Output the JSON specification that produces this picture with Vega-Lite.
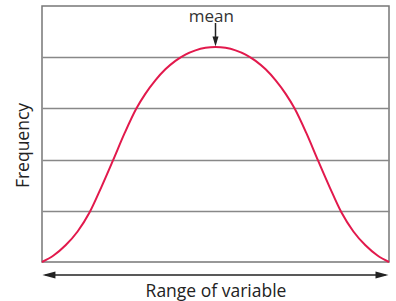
{
  "$schema": "https://vega.github.io/schema/vega-lite/v6.json",
  "autosize": {"type": "none"},
  "width": 347,
  "height": 256,
  "padding": {"left": 42, "top": 6, "right": 7, "bottom": 39},
  "background": "white",
  "config": {
    "view": {"stroke": "#777777", "strokeWidth": 1.5},
    "font": "Open Sans",
    "axis": {"labelFont": "Open Sans", "titleFont": "Open Sans"}
  },
  "datasets": {
    "curve": [
      {"x": 0, "y": 0}, {"x": 3.32, "y": 0.127}, {"x": 6.79, "y": 0.326}, {"x": 10.26, "y": 0.596},
      {"x": 13.73, "y": 0.971}, {"x": 17.08, "y": 1.459}, {"x": 20.46, "y": 1.984}, {"x": 23.84, "y": 2.521},
      {"x": 27.23, "y": 3.002}, {"x": 29.77, "y": 3.284}, {"x": 32.66, "y": 3.548}, {"x": 35.55, "y": 3.763},
      {"x": 38.44, "y": 3.929}, {"x": 41.33, "y": 4.052}, {"x": 44.22, "y": 4.134}, {"x": 47.11, "y": 4.183},
      {"x": 50, "y": 4.199},
      {"x": 52.89, "y": 4.183}, {"x": 55.78, "y": 4.134}, {"x": 58.67, "y": 4.052}, {"x": 61.56, "y": 3.929},
      {"x": 64.45, "y": 3.763}, {"x": 67.34, "y": 3.548}, {"x": 70.23, "y": 3.284}, {"x": 72.77, "y": 3.002},
      {"x": 76.16, "y": 2.521}, {"x": 79.54, "y": 1.984}, {"x": 82.92, "y": 1.459}, {"x": 86.27, "y": 0.971},
      {"x": 89.74, "y": 0.596}, {"x": 93.21, "y": 0.326}, {"x": 96.68, "y": 0.127}, {"x": 100, "y": 0}
    ],
    "range": [{"x": 1.0, "x2": 99.0, "y": -0.254}],
    "rangeHeads": [
      {"x": 2.0, "y": -0.254, "side": "left"},
      {"x": 97.98, "y": -0.254, "side": "right"}
    ],
    "meanShaft": [{"x": 50, "y": 4.668, "y2": 4.33}],
    "meanHead": [{"x": 50, "y": 4.307}],
    "meanLabel": [{"x": 48.8, "y": 4.69, "label": "mean"}]
  },
  "layer": [
    {
      "data": {"name": "curve"},
      "mark": {"type": "line", "color": "#e2194c", "strokeWidth": 2, "interpolate": "monotone"},
      "encoding": {
        "x": {
          "field": "x", "type": "quantitative",
          "scale": {"domain": [0, 100], "nice": false, "zero": false},
          "axis": {
            "title": "Range of variable", "labels": false, "ticks": false, "domain": false, "grid": false,
            "titleFontSize": 17.5, "titleFontWeight": "normal", "titleColor": "#222222",
            "titleBaseline": "alphabetic", "titleY": 34
          }
        },
        "y": {
          "field": "y", "type": "quantitative",
          "scale": {"domain": [0, 5], "nice": false, "zero": false},
          "axis": {
            "title": "Frequency", "labels": false, "ticks": false, "domain": false,
            "grid": true, "values": [1, 2, 3, 4], "gridColor": "#888888", "gridWidth": 1.5,
            "titleFontSize": 17.5, "titleFontWeight": "normal", "titleColor": "#222222",
            "titleBaseline": "alphabetic", "titleAngle": -90, "titleX": -14, "titleY": 139, "titleAlign": "center"
          }
        }
      }
    },
    {
      "data": {"name": "range"},
      "mark": {"type": "rule", "color": "#222222", "strokeWidth": 1.5},
      "encoding": {
        "x": {"field": "x", "type": "quantitative"},
        "x2": {"field": "x2"},
        "y": {"field": "y", "type": "quantitative"}
      }
    },
    {
      "data": {"name": "rangeHeads"},
      "mark": {"type": "point", "filled": true, "color": "#222222", "size": 169, "opacity": 1, "strokeWidth": 0},
      "encoding": {
        "x": {"field": "x", "type": "quantitative"},
        "y": {"field": "y", "type": "quantitative"},
        "shape": {
          "field": "side", "type": "nominal", "legend": null,
          "scale": {"domain": ["left", "right"], "range": ["M-1,0L1,-0.55L1,0.55Z", "M1,0L-1,-0.55L-1,0.55Z"]}
        }
      }
    },
    {
      "data": {"name": "meanShaft"},
      "mark": {"type": "rule", "color": "#222222", "strokeWidth": 1.5},
      "encoding": {
        "x": {"field": "x", "type": "quantitative"},
        "y": {"field": "y", "type": "quantitative"},
        "y2": {"field": "y2"}
      }
    },
    {
      "data": {"name": "meanHead"},
      "mark": {"type": "point", "filled": true, "color": "#222222", "size": 100, "opacity": 1, "strokeWidth": 0, "shape": "M0,1L-0.6,-1L0.6,-1Z"},
      "encoding": {
        "x": {"field": "x", "type": "quantitative"},
        "y": {"field": "y", "type": "quantitative"}
      }
    },
    {
      "data": {"name": "meanLabel"},
      "mark": {"type": "text", "fontSize": 17, "color": "#333333", "baseline": "alphabetic", "align": "center"},
      "encoding": {
        "x": {"field": "x", "type": "quantitative"},
        "y": {"field": "y", "type": "quantitative"},
        "text": {"field": "label"}
      }
    }
  ]
}
